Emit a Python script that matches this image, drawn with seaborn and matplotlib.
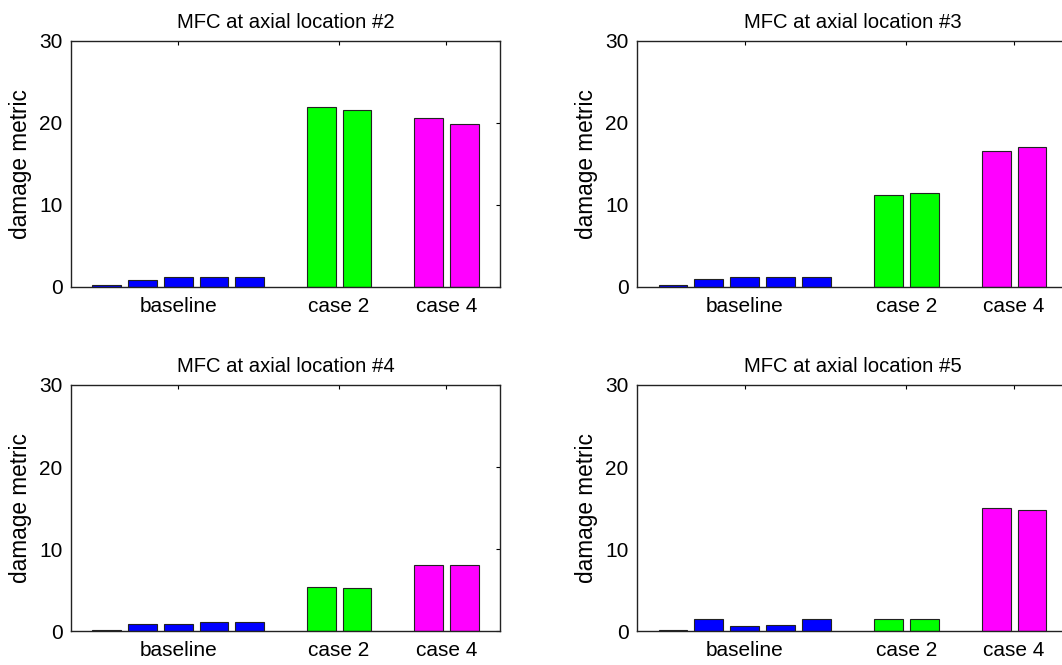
import matplotlib
matplotlib.use("Agg")
import matplotlib.pyplot as plt
import seaborn as sns
import pandas as pd
import numpy as np

# ---- data ----
groups = ["baseline", "case 2", "case 4"]
group_colors = ["#0000FF", "#00FF00", "#FF00FF"]
titles = ["MFC at axial location #2", "MFC at axial location #3",
          "MFC at axial location #4", "MFC at axial location #5"]

loc2_baseline = [0.2, 0.9, 1.2, 1.2, 1.2]
loc2_case2 = [21.9, 21.6]
loc2_case4 = [20.6, 19.8]

loc3_baseline = [0.2, 1.0, 1.2, 1.2, 1.2]
loc3_case2 = [11.25, 11.4]
loc3_case4 = [16.5, 17.0]

loc4_baseline = [0.15, 0.9, 0.9, 1.1, 1.1]
loc4_case2 = [5.4, 5.25]
loc4_case4 = [8.05, 8.05]

loc5_baseline = [0.15, 1.45, 0.6, 0.8, 1.45]
loc5_case2 = [1.57, 1.57]
loc5_case4 = [15.0, 14.8]

panels = [
    [loc2_baseline, loc2_case2, loc2_case4],
    [loc3_baseline, loc3_case2, loc3_case4],
    [loc4_baseline, loc4_case2, loc4_case4],
    [loc5_baseline, loc5_case2, loc5_case4],
]
y_ticks = [0, 10, 20, 30]
ylabel = "damage metric"

# ---- style ----
sns.set_style("white")
plt.rcParams["font.family"] = ["Liberation Sans", "DejaVu Sans"]
plt.rcParams["xtick.direction"] = "in"
plt.rcParams["ytick.direction"] = "in"
plt.rcParams["text.color"] = "black"
plt.rcParams["axes.labelcolor"] = "black"
plt.rcParams["xtick.color"] = "black"
plt.rcParams["ytick.color"] = "black"

fig = plt.figure(figsize=(10.62, 6.65), dpi=100)

W, H = 1062.0, 665.0
boxes = [
    (71, 40.6, 429, 246.4),
    (637, 40.6, 431, 246.4),
    (71, 385, 429, 246.4),
    (637, 385, 431, 246.4),
]

for i, (vals, title) in enumerate(zip(panels, titles)):
    x0, y0, w, h = boxes[i]
    ax = fig.add_axes([x0 / W, 1 - (y0 + h) / H, w / W, h / H])

    # build positions: groups separated by one empty slot
    rows = []
    centers = []
    pos = 1
    for g, gv in zip(groups, vals):
        start = pos
        for v in gv:
            rows.append({"pos": pos, "value": v, "group": g})
            pos += 1
        centers.append((start + pos - 1) / 2.0)
        pos += 1
    df = pd.DataFrame(rows)

    sns.barplot(data=df, x="pos", y="value", hue="group",
                palette=dict(zip(groups, group_colors)), hue_order=groups,
                native_scale=True, width=0.8, dodge=False, saturation=1,
                edgecolor="#222222", linewidth=0.8, legend=False, ax=ax)

    ax.set_xlim(0, pos - 1)
    ax.set_ylim(0, 30)
    ax.set_xticks(centers)
    ax.set_xticklabels(groups)
    ax.set_yticks(y_ticks)
    ax.set_xlabel("")
    ax.set_ylabel(ylabel, fontsize=16.3, labelpad=5)
    ax.set_title(title, fontsize=14.6, pad=9)
    ax.tick_params(axis="both", labelsize=15, length=3, width=0.8,
                   top=True, right=True, color="black")
    ax.tick_params(axis="x", pad=7)
    ax.tick_params(axis="y", pad=6)
    for s in ax.spines.values():
        s.set_visible(True)
        s.set_color("#222222")
        s.set_linewidth(1.0)

fig.savefig("out.png", dpi=100)
